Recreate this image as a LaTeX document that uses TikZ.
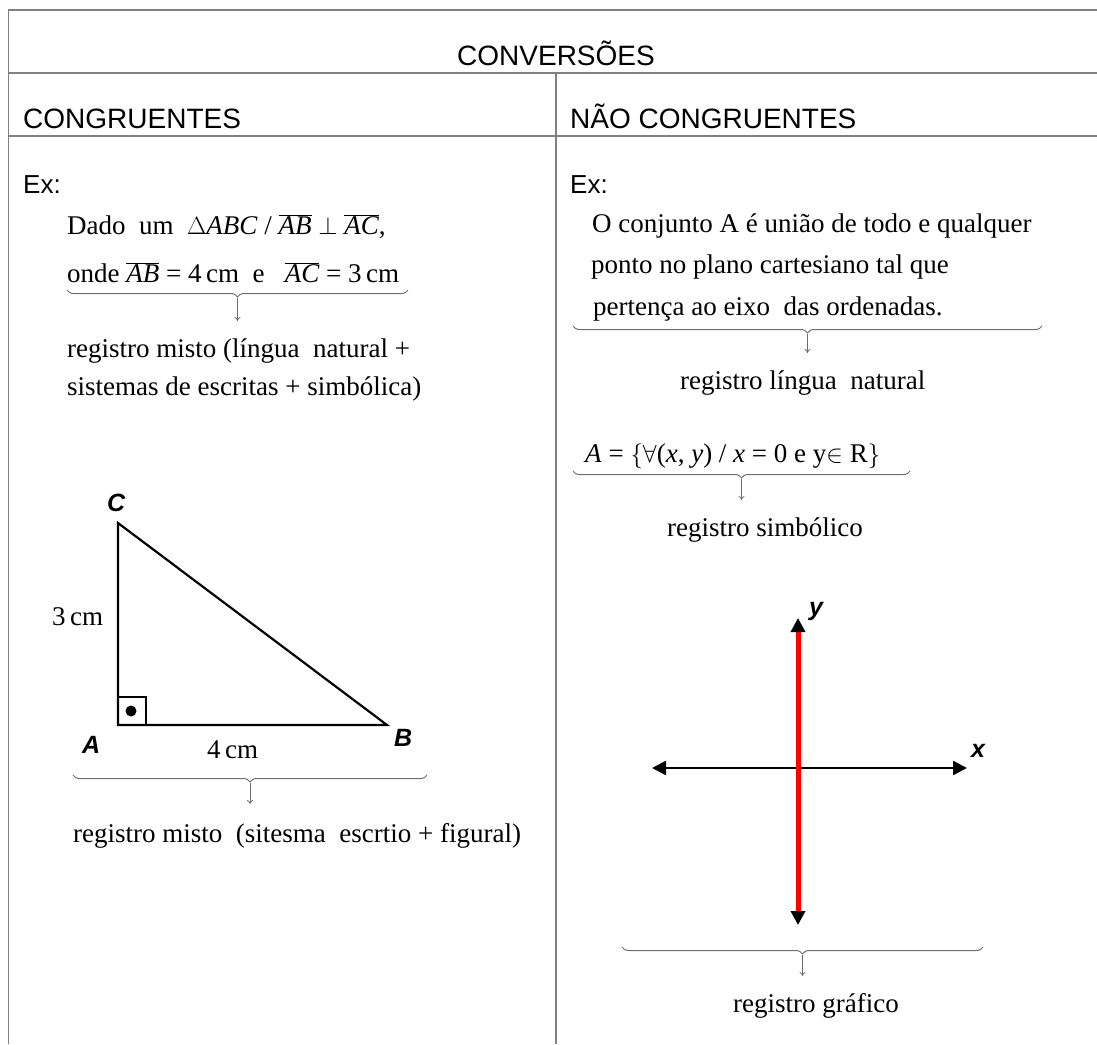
\documentclass[tikz,border=0pt]{standalone}
\usepackage{fontspec}
\setmainfont{Liberation Serif}
\setsansfont{Liberation Sans}
\usetikzlibrary{arrows.meta,decorations.pathreplacing}
\definecolor{tgray}{RGB}{128,128,128}
\definecolor{bgray}{RGB}{110,110,110}
\newcommand\ovl[1]{$\overline{\mbox{\itshape #1}}$}
\begin{document}
\begin{tikzpicture}[x=1pt,y=-1pt,
  tline/.style={line width=1.8pt, draw=tgray},
  hdr/.style={font=\sffamily\fontsize{28}{34}\selectfont, inner sep=0, anchor=base west},
  exlab/.style={font=\sffamily\fontsize{26}{30}\selectfont, inner sep=0, anchor=base west},
  txt/.style={font=\fontsize{27}{32}\selectfont, inner sep=0, anchor=base west},
  vlab/.style={font=\sffamily\bfseries\itshape\fontsize{25}{29}\selectfont, inner sep=0, anchor=base west},
  brc/.style={draw=bgray, line width=1pt, decorate, decoration={brace, mirror, amplitude=7pt}},
  brarrow/.style={draw=bgray, line width=0.8pt, -{To[length=4pt,width=6pt]}}
]
\useasboundingbox (0,0) rectangle (1097,1044);
% table
\draw[tline] (8,10) -- (1097,10);
\draw[tline] (8,73) -- (1097,73);
\draw[tline] (8,136) -- (1097,136);
\draw[tline] (8.5,9) -- (8.5,1044);
\draw[tline] (556,73) -- (556,1044);
% headers
\node[hdr, anchor=base] (conv) at (556,65) {CONVERSÕES};
\node[hdr] (cong) at (23,128) {CONGRUENTES};
\node[hdr] (ncong) at (570,128) {NÃO CONGRUENTES};
\node[exlab] (exl) at (23,193) {Ex:};
\node[exlab] (exr) at (570,193) {Ex:};
% left column texts
\node[txt] (l1) at (67,234) {Dado\ \ um\ \ $\Delta$\textit{ABC} / \ovl{AB} $\perp$ \ovl{AC},};
\node[txt] (l2) at (67,282) {onde \ovl{AB} = 4\,cm\ \ e\ \ \ \ovl{AC} = 3\,cm};
\coordinate (b1l) at (67,290);
\coordinate (b1r) at (408,290);
\coordinate (b1t) at (237.5,298);
\coordinate (b1e) at (237.5,321);
\draw[brc] (b1l) -- (b1r);
\draw[brarrow] (b1t) -- (b1e);
\node[txt] (l3) at (67,357) {registro misto (língua\ \ natural +};
\node[txt] (l4) at (67,395) {sistemas de escritas + simbólica)};
% triangle
\coordinate (A) at (118,725);
\coordinate (B) at (387,725);
\coordinate (C) at (118,523);
\draw[line width=2.2pt, line join=miter] (A) -- (B) -- (C) -- cycle;
\draw[line width=1.8pt] (118,697) rectangle (146,725);
\fill (131,711) circle (5.5);
\node[vlab] (lC) at (107,511) {C};
\node[vlab] (lA) at (82,753) {A};
\node[vlab] (lB) at (394,746) {B};
\node[txt] (s3) at (52,625) {3\,cm};
\node[txt] (s4) at (207,758) {4\,cm};
\coordinate (b2l) at (73,775);
\coordinate (b2r) at (427,775);
\coordinate (b2t) at (250,783);
\coordinate (b2e) at (250,804);
\draw[brc] (b2l) -- (b2r);
\draw[brarrow] (b2t) -- (b2e);
\node[txt] (l5) at (73,842) {registro misto\ \ (sitesma\ \ escrtio + figural)};
% right column texts
\node[txt] (r1) at (592,232) {O conjunto A é união de todo e qualquer};
\node[txt] (r2) at (591,273) {ponto no plano cartesiano tal que};
\node[txt] (r3) at (593,315) {pertença ao eixo\ \ das ordenadas.};
\coordinate (b3l) at (573,326);
\coordinate (b3r) at (1042,326);
\coordinate (b3t) at (807.5,334);
\coordinate (b3e) at (807.5,353);
\draw[brc] (b3l) -- (b3r);
\draw[brarrow] (b3t) -- (b3e);
\node[txt] (r4) at (680,389) {registro língua\ \ natural};
\node[txt] (r5) at (585,462) {\textit{A} = $\bigl\{\forall$(\textit{x}, \textit{y}) / \textit{x} = 0 e y$\in$ R$\bigr\}$};
\coordinate (b4l) at (573,471);
\coordinate (b4r) at (910,471);
\coordinate (b4t) at (741.5,479);
\coordinate (b4e) at (741.5,500);
\draw[brc] (b4l) -- (b4r);
\draw[brarrow] (b4t) -- (b4e);
\node[txt] (r6) at (667,536) {registro simbólico};
% axes
\coordinate (xl) at (652,768);
\coordinate (xr) at (967,768);
\coordinate (yb) at (798,925);
\coordinate (yt) at (798,618);
\draw[line width=2.5pt, {Triangle[length=14pt,width=14pt]}-{Triangle[length=14pt,width=14pt]}] (xl) -- (xr);
\draw[line width=5pt, red, {Triangle[length=14pt,width=14pt,black]}-{Triangle[length=14pt,width=14pt,black]}] (yb) -- (yt);
\node[vlab] (ly) at (809,615) {y};
\node[vlab] (lx) at (971,757) {x};
\coordinate (b5l) at (622,947);
\coordinate (b5r) at (983,947);
\coordinate (b5t) at (802.5,955);
\coordinate (b5e) at (802.5,976);
\draw[brc] (b5l) -- (b5r);
\draw[brarrow] (b5t) -- (b5e);
\node[txt] (r7) at (733,1012) {registro gráfico};
\end{tikzpicture}
\end{document}
